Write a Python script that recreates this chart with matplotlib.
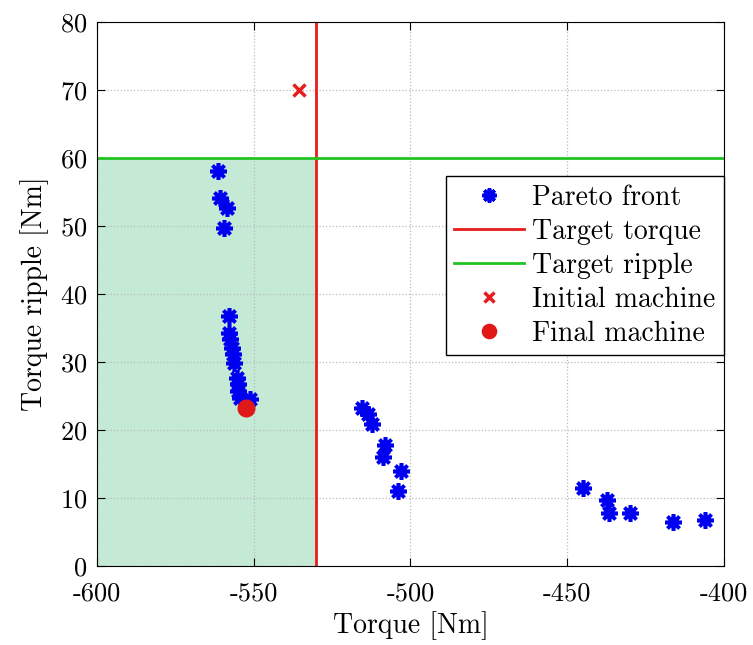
import matplotlib
matplotlib.use("Agg")
import matplotlib.pyplot as plt
from matplotlib.patches import Rectangle

plt.rcParams['font.family'] = ['cmr10', 'DejaVu Serif']
plt.rcParams['mathtext.fontset'] = 'cm'
plt.rcParams['axes.formatter.use_mathtext'] = True

# Pareto front points (torque [Nm], ripple [Nm])
pareto_torque = [-561.5, -560.8, -558.6, -559.6, -558.0, -558.0, -557.6, -557.0,
                 -556.7, -556.4, -555.4, -555.1, -555.1, -554.5, -551.3,
                 -515.3, -513.4, -512.4, -508.0, -508.9, -502.9, -504.1,
                 -444.9, -437.3, -436.6, -429.9, -416.2, -406.1]
pareto_ripple = [58.1, 54.1, 52.6, 49.7, 36.8, 34.3, 33.4, 32.1,
                 31.2, 29.9, 27.6, 26.8, 25.7, 24.7, 24.6,
                 23.2, 22.4, 20.9, 17.8, 16.0, 14.0, 11.0,
                 11.5, 9.7, 7.8, 7.8, 6.5, 6.8]

target_torque = -530
target_ripple = 60
initial_machine = (-535.4, 70.0)
final_machine = (-552.5, 23.3)

x_ticks = [-600, -550, -500, -450, -400]
x_tick_labels = ['-600', '-550', '-500', '-450', '-400']
y_ticks = [0, 10, 20, 30, 40, 50, 60, 70, 80]

fig = plt.figure(figsize=(7.53, 6.45), dpi=100)
ax = fig.add_axes([0.129, 0.122, 0.832, 0.844])

ax.add_patch(Rectangle((-600, 0), target_torque + 600, target_ripple,
                       facecolor='#c4ead5', edgecolor='none', zorder=0))

ax.plot(pareto_torque, pareto_ripple, linestyle='none', marker=(8, 2, 0),
        markersize=12, mew=2.6, color='#0000f0', label='Pareto front', zorder=3)
ax.axvline(target_torque, color='#e81c1c', lw=2, label='Target torque', zorder=2)
ax.axhline(target_ripple, color='#22c322', lw=2, label='Target ripple', zorder=2)
ax.plot(*initial_machine, linestyle='none', marker='x', markersize=8,
        mew=2.5, color='#e81c1c', label='Initial machine', zorder=4)
ax.plot(*final_machine, linestyle='none', marker='o', markersize=12,
        color='#e01818', label='Final machine', zorder=4)

ax.set_xlim(-600, -400)
ax.set_ylim(0, 80)
ax.set_xticks(x_ticks)
ax.set_xticklabels(x_tick_labels)
ax.set_yticks(y_ticks)
ax.tick_params(direction='in', top=True, right=True, labelsize=19, length=6)
ax.tick_params(axis='x', pad=11)
ax.tick_params(axis='y', pad=7)
ax.grid(True, linestyle=':', color='#bbbbbb', lw=0.9)
ax.set_axisbelow(True)

ax.set_xlabel('Torque [Nm]', fontsize=20, labelpad=4)
ax.set_ylabel('Torque ripple [Nm]', fontsize=20, labelpad=8)

leg = ax.legend(loc='upper right', bbox_to_anchor=(1.0, 0.717), borderaxespad=0,
                fontsize=20, fancybox=False, framealpha=1, edgecolor='black',
                handlelength=2.5, handletextpad=0.3, labelspacing=0.28,
                borderpad=0.3, markerscale=0.85)
leg.get_frame().set_linewidth(1.0)

fig.savefig('out.png', dpi=100)
